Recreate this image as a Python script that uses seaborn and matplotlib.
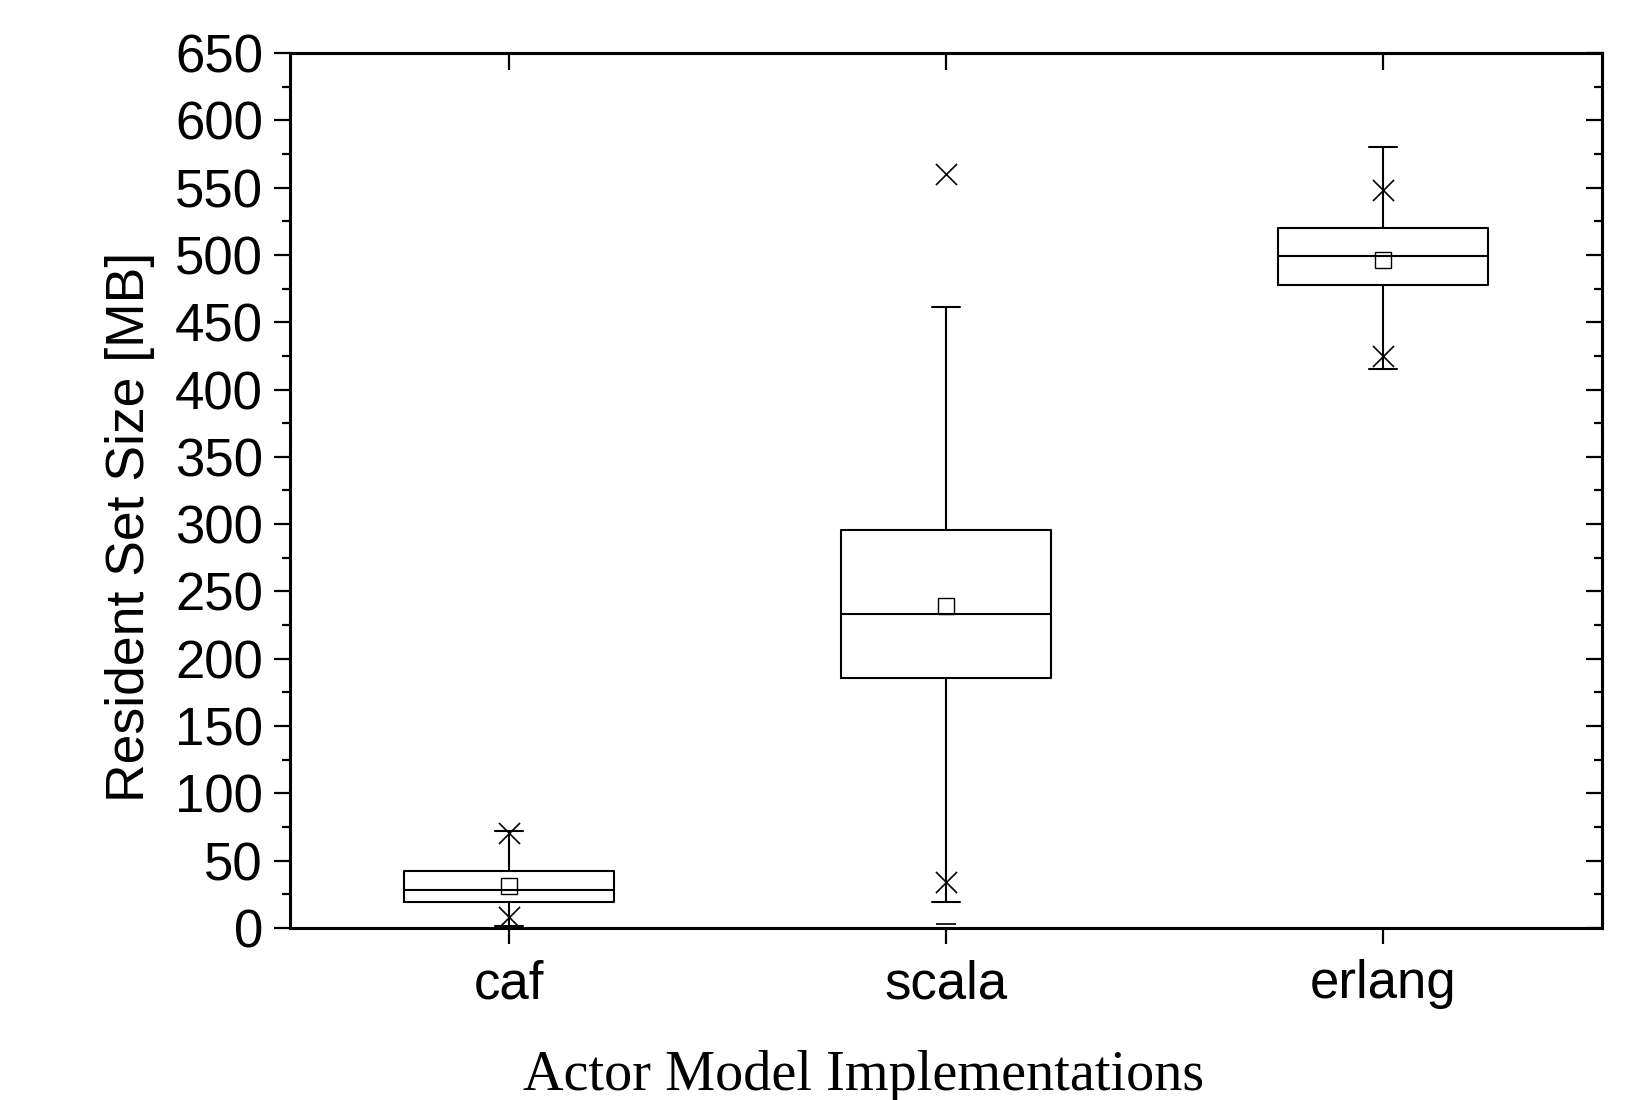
import numpy as np
import pandas as pd
import matplotlib
matplotlib.use("Agg")
from matplotlib import pyplot as plt
from matplotlib.ticker import MultipleLocator, FixedLocator, NullFormatter
import seaborn as sns

# summary statistics (MB)
impls = ['caf', 'scala', 'erlang']
whisker_lo = [1.5, 19.5, 415.5]
q1 = [19.0, 185.5, 478.0]
medians = [28.0, 233.5, 499.0]
q3 = [42.0, 296.0, 520.0]
whisker_hi = [72.0, 461.5, 580.0]
means = [31.0, 239.5, 496.0]
pct_1 = [8.5, 34.0, 425.0]
pct_99 = [70.5, 560.0, 548.5]
minimums = [1.5, 3.0, 415.5]

sns.set_theme(style="ticks")
plt.rcParams['font.family'] = ['Liberation Sans', 'DejaVu Sans']

fig = plt.figure(figsize=(16.27, 11), dpi=100)
ax = fig.add_axes([290 / 1627, 1 - 928 / 1100, 1312 / 1627, 875 / 1100])

pos = np.arange(len(impls))
stats = []
for i, name in enumerate(impls):
    stats.append({'label': name, 'whislo': whisker_lo[i], 'q1': q1[i], 'med': medians[i],
                  'q3': q3[i], 'whishi': whisker_hi[i], 'mean': means[i], 'fliers': []})

lw = 1.5
ax.bxp(stats, positions=pos, widths=0.48, showmeans=True, showfliers=False,
       capwidths=0.064,
       boxprops=dict(color='black', linewidth=lw),
       whiskerprops=dict(color='black', linewidth=lw),
       capprops=dict(color='black', linewidth=lw),
       medianprops=dict(color='black', linewidth=lw),
       meanprops=dict(marker='s', markerfacecolor='none', markeredgecolor='black',
                      markersize=11, markeredgewidth=1.0))

# 1% / 99% percentiles as crosses, minimum as dash
pct = pd.DataFrame({'pos': np.concatenate([pos, pos]),
                    'value': pct_1 + pct_99})
sns.scatterplot(data=pct, x='pos', y='value', marker='x', s=230, color='black',
                linewidth=1.2, ax=ax, legend=False, zorder=4)
mins = pd.DataFrame({'pos': pos, 'value': minimums})
sns.scatterplot(data=mins, x='pos', y='value', marker='_', s=200, color='black',
                linewidth=1.2, ax=ax, legend=False, zorder=4)

ax.set_xlim(-0.5, 2.5)
ax.set_ylim(0, 650)
ax.set_xticks(pos)
ax.set_xticklabels(impls)
ax.yaxis.set_major_locator(MultipleLocator(50))
ax.yaxis.set_minor_locator(MultipleLocator(25))

for s in ax.spines.values():
    s.set_linewidth(2.2)
    s.set_color('black')

ax.tick_params(axis='both', which='major', direction='out', length=11.5, width=1.6,
               labelsize=38, color='black', labelcolor='black')
ax.tick_params(axis='y', which='major', pad=8)
ax.tick_params(axis='x', which='major', pad=11)
ax.tick_params(axis='y', which='minor', direction='out', length=6, width=1.6, color='black')

# inward ticks on right and top
sec_y = ax.secondary_yaxis('right')
sec_y.yaxis.set_major_locator(MultipleLocator(50))
sec_y.yaxis.set_minor_locator(MultipleLocator(25))
sec_y.yaxis.set_major_formatter(NullFormatter())
sec_y.tick_params(which='major', direction='in', length=11.5, width=1.6, color='black')
sec_y.tick_params(which='minor', direction='in', length=6, width=1.6, color='black')
sec_y.spines['right'].set_linewidth(2.2)

sec_x = ax.secondary_xaxis('top')
sec_x.xaxis.set_major_locator(FixedLocator(pos))
sec_x.xaxis.set_major_formatter(NullFormatter())
sec_x.tick_params(which='major', direction='in', length=12, width=1.6, color='black')
sec_x.spines['top'].set_linewidth(2.2)

ax.set_ylabel('Resident Set Size [MB]', fontsize=38.5, color='black')
ax.yaxis.set_label_coords(-0.103, 0.458)
ax.set_xlabel('Actor Model Implementations', fontsize=40.5, color='black',
              family=['Liberation Serif', 'DejaVu Serif'])
ax.xaxis.set_label_coords(0.4375, -0.14)

fig.savefig('out.png', dpi=100, facecolor='white')
